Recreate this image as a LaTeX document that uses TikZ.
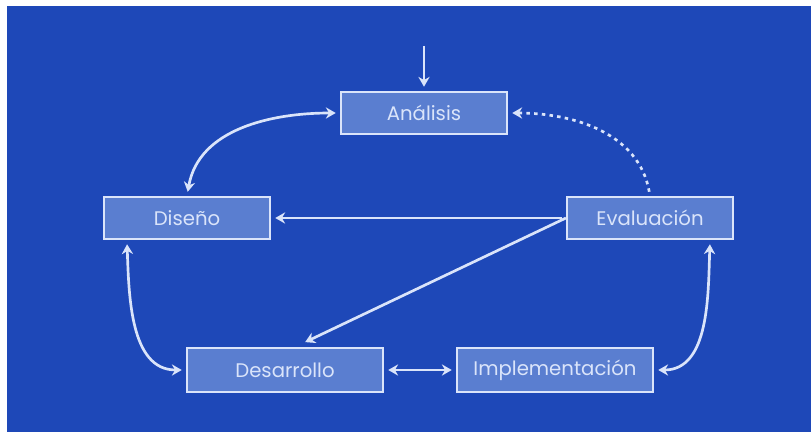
\documentclass[tikz,border=0pt]{standalone}
\usepackage{fontspec}
\setmainfont{Poppins}
\usetikzlibrary{arrows.meta}
\definecolor{sheetblue}{RGB}{30,72,184}
\definecolor{boxblue}{RGB}{90,126,208}
\definecolor{paleline}{RGB}{218,228,250}
\begin{document}
\begin{tikzpicture}[
      x=0.025cm, y=-0.025cm,
      phase box/.style ={draw=paleline,line width=1.5pt,fill=boxblue,
        text=paleline,font=\fontsize{14}{16}\selectfont,
        minimum width=4.15cm,minimum height=1.05cm,inner sep=0pt},
      wide box/.style ={phase box,minimum width=4.9cm,minimum height=1.1cm},
      link/.style ={draw=paleline,line width=1.9pt,>={Stealth[length=7pt,width=8pt]},
        shorten >=3pt,shorten <=3pt}
      ]
    \fill[white] (0,0) rectangle (811,432);
    \fill[sheetblue] (7,6) rectangle (811,432);
    \useasboundingbox (0,0) rectangle (811,432);
    \node[phase box] (ana) at (424,113) {Análisis};
    \node[phase box] (dis) at (187,218) {Diseño};
    \node[phase box] (eva) at (650,218) {Evaluación};
    \node[wide box] (dev) at (285,370) {Desarrollo};
    \node[wide box] (imp) at (555,370) {Implementación};
    \coordinate (entry) at (424,46);
    \draw[link,->,shorten <=0pt] (entry) -- (ana);
    \draw[link,<->] (dis.north) to[out=80,in=180] (ana.west);
    \draw[link,->,dash pattern=on 2.5pt off 3pt] (eva.north) to[out=100,in=0] (ana.east);
    \draw[link,->] (eva.west) -- (dis.east);
    \draw[link,->,shorten <=0pt,shorten >=8pt] (eva.west) -- ([xshift=0.25cm]dev.north);
    \draw[link,<->] ([xshift=0.6cm]dis.south west) to[out=-88,in=180] (dev.west);
    \draw[link,<->] (dev) -- (imp);
    \draw[link,<->] (imp.east) to[out=0,in=-92] ([xshift=-0.6cm]eva.south east);
\end{tikzpicture}
\end{document}
